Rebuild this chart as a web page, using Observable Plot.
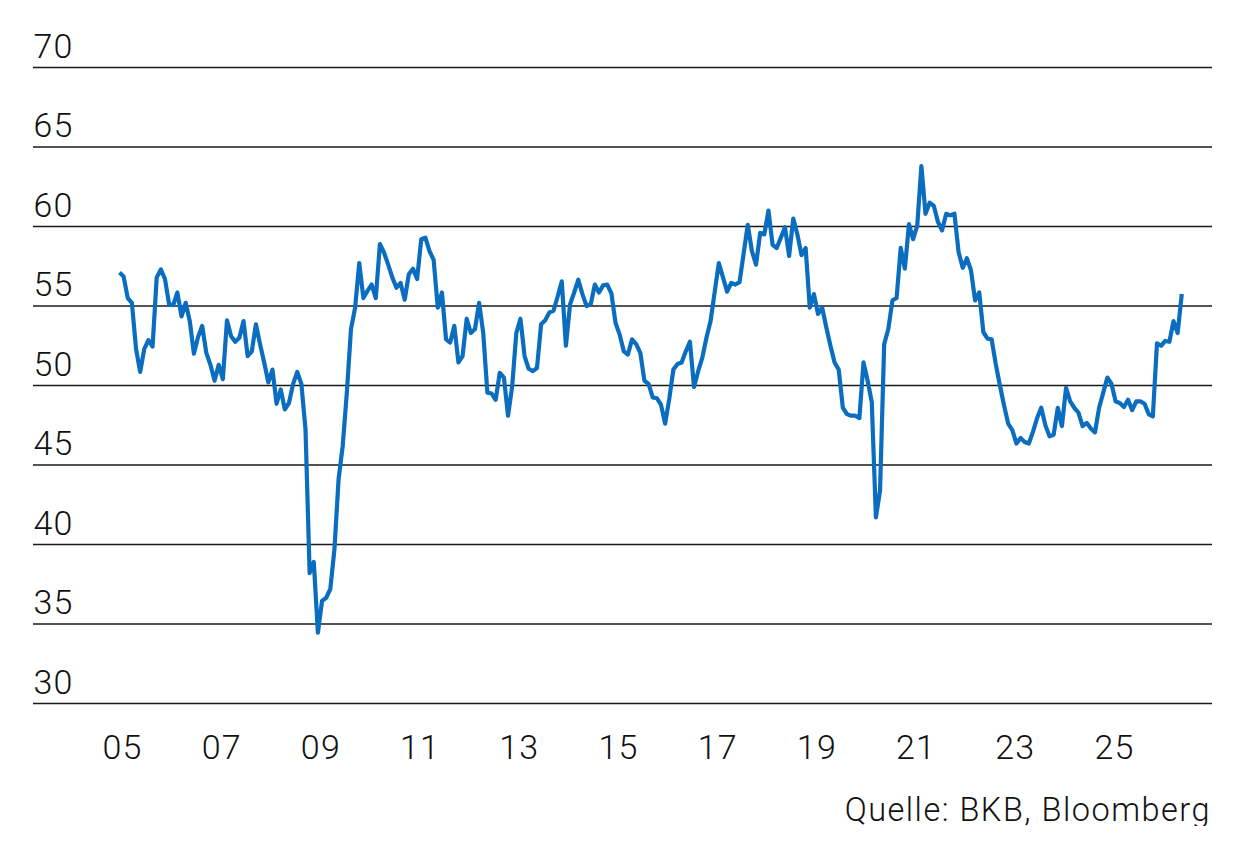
<!DOCTYPE html>
<html>
<head>
<meta charset="utf-8">
<script src="https://cdn.jsdelivr.net/npm/d3@7"></script>
<script src="https://cdn.jsdelivr.net/npm/@observablehq/plot@0.6"></script>
<style>
  html, body { margin: 0; padding: 0; background: #fff; }
  #chart { width: 1246px; }
  #caption {
    width: 1246px; box-sizing: border-box; padding-right: 35px;
    text-align: right; font-family: Roboto, "Liberation Sans", sans-serif;
    font-weight: 300; font-size: 32.5px; line-height: 32px; color: #111;
    letter-spacing: 1.5px;
    margin-top: 14px;
  }
</style>
</head>
<body>
<div id="chart"></div>
<div id="caption">Quelle: BKB, Bloomberg</div>
<script>
// Monthly values, January to December of each year
const v2005 = [57.1, 56.85, 55.5, 55.2, 52.3, 50.85, 52.3, 52.85, 52.45, 56.8, 57.3, 56.7];
const v2006 = [55.1, 55.05, 55.85, 54.35, 55.2, 54.05, 52.0, 53.05, 53.75, 52.05, 51.3, 50.3];
const v2007 = [51.3, 50.4, 54.1, 53.1, 52.75, 53.0, 54.05, 51.85, 52.15, 53.85, 52.6, 51.45];
const v2008 = [50.2, 51.0, 48.85, 49.75, 48.5, 48.9, 50.1, 50.85, 50.1, 47.25, 38.2, 38.9];
const v2009 = [34.45, 36.45, 36.65, 37.2, 39.7, 44.1, 46.2, 49.55, 53.55, 54.9, 57.7, 55.5];
const v2010 = [55.95, 56.35, 55.5, 58.9, 58.35, 57.6, 56.8, 56.15, 56.45, 55.4, 57.0, 57.35];
const v2011 = [56.7, 59.2, 59.3, 58.45, 57.9, 54.9, 55.85, 52.9, 52.7, 53.75, 51.45, 51.85];
const v2012 = [54.2, 53.3, 53.55, 55.2, 53.3, 49.55, 49.5, 49.1, 50.8, 50.5, 48.1, 49.95];
const v2013 = [53.3, 54.2, 51.85, 51.05, 50.9, 51.1, 53.85, 54.1, 54.6, 54.7, 55.6, 56.55];
const v2014 = [52.5, 55.1, 55.85, 56.65, 55.75, 55.0, 55.1, 56.35, 55.85, 56.3, 56.35, 55.8];
const v2015 = [53.95, 53.2, 52.15, 51.95, 52.9, 52.6, 52.05, 50.3, 50.1, 49.25, 49.2, 48.8];
const v2016 = [47.6, 49.15, 51.0, 51.35, 51.45, 52.15, 52.75, 49.9, 50.9, 51.75, 53.0, 54.05];
const v2017 = [55.9, 57.7, 56.8, 55.9, 56.45, 56.35, 56.5, 58.3, 60.1, 58.45, 57.6, 59.6];
const v2018 = [59.5, 61.0, 58.85, 58.65, 59.3, 59.95, 58.15, 60.5, 59.5, 58.2, 58.65, 54.9];
const v2019 = [55.75, 54.5, 54.9, 53.65, 52.5, 51.45, 51.0, 48.6, 48.2, 48.1, 48.1, 47.95];
const v2020 = [51.45, 50.3, 48.95, 41.7, 43.4, 52.6, 53.55, 55.35, 55.5, 58.65, 57.35, 60.15];
const v2021 = [59.2, 60.05, 63.8, 60.8, 61.5, 61.3, 60.3, 59.75, 60.8, 60.7, 60.8, 58.4];
const v2022 = [57.4, 58.0, 57.25, 55.35, 55.85, 53.35, 52.95, 52.9, 51.35, 50.0, 48.75, 47.6];
const v2023 = [47.2, 46.35, 46.7, 46.45, 46.35, 47.1, 47.95, 48.6, 47.5, 46.8, 46.9, 48.6];
const v2024 = [47.45, 49.85, 49.0, 48.6, 48.3, 47.45, 47.65, 47.3, 47.05, 48.6, 49.55, 50.5];
const v2025 = [50.1, 49.0, 48.9, 48.65, 49.1, 48.45, 49.0, 49.0, 48.85, 48.2, 48.05, 52.65];
const v2026 = [52.5, 52.8, 52.75, 54.05, 53.3, 55.75];

const years = [2005, 2006, 2007, 2008, 2009, 2010, 2011, 2012, 2013, 2014, 2015,
               2016, 2017, 2018, 2019, 2020, 2021, 2022, 2023, 2024, 2025, 2026];
const seriesByYear = [v2005, v2006, v2007, v2008, v2009, v2010, v2011, v2012, v2013, v2014, v2015,
                      v2016, v2017, v2018, v2019, v2020, v2021, v2022, v2023, v2024, v2025, v2026];

const yTicks = [30, 35, 40, 45, 50, 55, 60, 65, 70];
const xTicks = [2005, 2007, 2009, 2011, 2013, 2015, 2017, 2019, 2021, 2023, 2025];
const xTickLabels = ["05", "07", "09", "11", "13", "15", "17", "19", "21", "23", "25"];

const data = [];
years.forEach((yr, i) => {
  seriesByYear[i].forEach((v, mo) => data.push({t: yr + mo / 12, value: v}));
});

const chart = Plot.plot({
  width: 1246,
  height: 780,
  marginLeft: 33,
  marginRight: 34,
  marginTop: 67,
  marginBottom: 77,
  style: {fontFamily: "Roboto, 'Liberation Sans', sans-serif", fontSize: "34px", fontWeight: 300, color: "#111", background: "#fff", letterSpacing: "1.2px"},
  x: {type: "linear", domain: [2003.266, 2027.036]},
  y: {domain: [30, 70]},
  marks: [
    Plot.ruleY(yTicks, {stroke: "#1a1a1a", strokeWidth: 1.3}),
    Plot.axisY({ticks: yTicks, tickSize: 0, tickPadding: 0, textAnchor: "start", lineAnchor: "bottom", dy: -10, label: null, fill: "#111"}),
    Plot.axisX({ticks: xTicks, tickFormat: (d) => xTickLabels[xTicks.indexOf(d)], tickSize: 0, tickPadding: 31, dx: 3, label: null, fill: "#111"}),
    Plot.line(data, {x: "t", y: "value", stroke: "#0b6dbf", strokeWidth: 4.2, strokeLinejoin: "round", strokeLinecap: "butt"})
  ]
});
document.getElementById("chart").appendChild(chart);
</script>
</body>
</html>
